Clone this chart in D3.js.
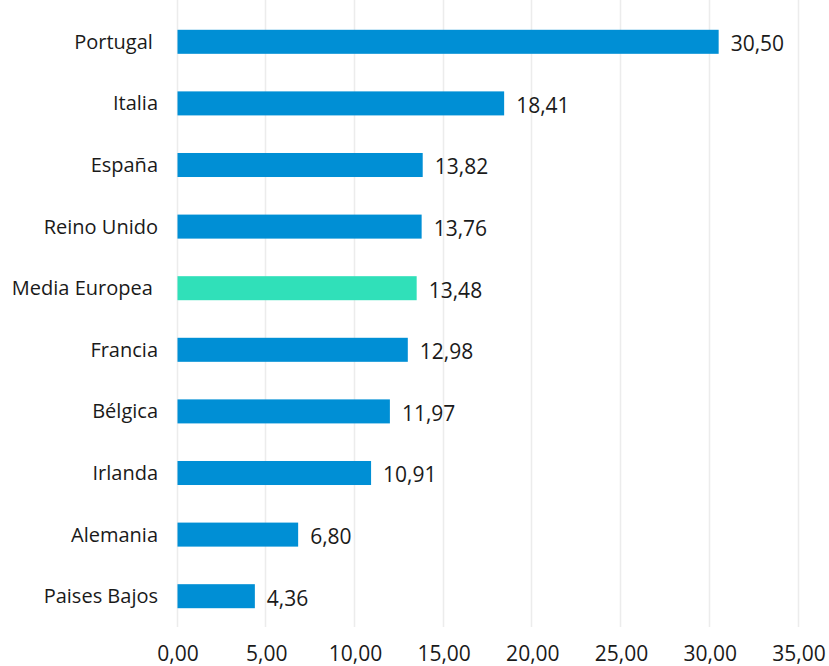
<!DOCTYPE html>
<html>
<head>
<meta charset="utf-8">
<script src="https://cdn.jsdelivr.net/npm/d3@7"></script>
<style>
  body { margin: 0; background: #fff; }
  text { font-family: "Open Sans", "Noto Sans", sans-serif; fill: #1a1a1a; white-space: pre; }
</style>
</head>
<body>
<svg id="chart" width="829" height="666"></svg>
<script>
// Datos (algunas etiquetas llevan un espacio final, como en el original)
const paises = ["Portugal ", "Italia", "España", "Reino Unido", "Media Europea ",
                "Francia", "Bélgica", "Irlanda", "Alemania", "Paises Bajos"];
const valores = [30.50, 18.41, 13.82, 13.76, 13.48, 12.98, 11.97, 10.91, 6.80, 4.36];
const ticks = [0, 5, 10, 15, 20, 25, 30, 35];
const destacado = "Media Europea ";

const data = paises.map((p, i) => ({ pais: p, valor: valores[i] }));

const svg = d3.select("#chart");
const fmt = v => d3.format(".2f")(v).replace(".", ",");

// Escalas
const x = d3.scaleLinear().domain([0, 35]).range([177.5, 798.5]);
const y = d3.scaleBand().domain(paises).range([11, 627]).paddingInner(0.61).paddingOuter(0.305);

// Rejilla
svg.append("g")
  .selectAll("line")
  .data(ticks)
  .enter().append("line")
    .attr("x1", d => Math.round(x(d)) - 0.5)
    .attr("x2", d => Math.round(x(d)) - 0.5)
    .attr("y1", 0)
    .attr("y2", 627)
    .attr("stroke", "#ececec")
    .attr("stroke-width", 1.5);

// Eje X (solo etiquetas)
const ax = svg.append("g")
  .attr("transform", "translate(0,627)")
  .call(d3.axisBottom(x).tickValues(ticks).tickFormat(fmt).tickSize(0).tickPadding(19));
ax.select(".domain").remove();
ax.selectAll("text").style("font-size", "21px").attr("fill", "#1a1a1a");

// Etiquetas de categoría
svg.append("g")
  .selectAll("text")
  .data(data)
  .enter().append("text")
    .attr("x", 158)
    .attr("y", d => y(d.pais) + y.bandwidth() / 2)
    .attr("dy", "0.35em")
    .attr("text-anchor", "end")
    .style("font-size", "20px")
    .text(d => d.pais);

// Barras
svg.append("g")
  .selectAll("rect")
  .data(data)
  .enter().append("rect")
    .attr("x", x(0))
    .attr("y", d => y(d.pais))
    .attr("width", d => x(d.valor) - x(0))
    .attr("height", y.bandwidth())
    .attr("fill", d => d.pais === destacado ? "#30e0b9" : "#008fd5");

// Valores
svg.append("g")
  .selectAll("text")
  .data(data)
  .enter().append("text")
    .attr("x", d => x(d.valor) + 12)
    .attr("y", d => y(d.pais) + y.bandwidth() / 2 + 2)
    .attr("dy", "0.35em")
    .style("font-size", "21px")
    .text(d => fmt(d.valor));
</script>
</body>
</html>
